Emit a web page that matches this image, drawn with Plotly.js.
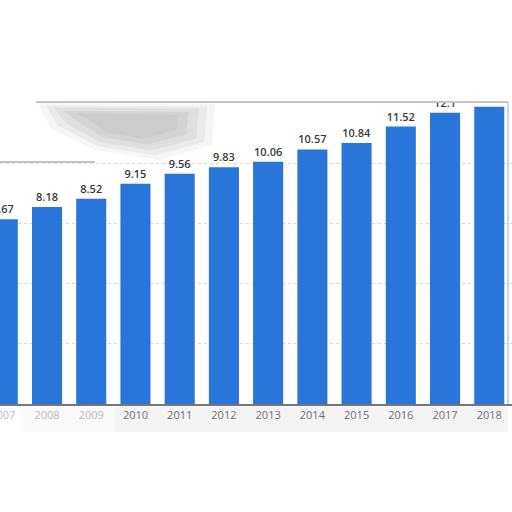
<!DOCTYPE html>
<html>
<head>
<meta charset="utf-8">
<script src="https://cdn.plot.ly/plotly-3.0.1.min.js"></script>
<style>
  html, body { margin: 0; padding: 0; background: #fff; }
  #chart { width: 512px; height: 512px; }
</style>
</head>
<body>
<div id="chart"></div>
<script>
// years and values (2018 label is hidden in the source)
var years = [2007, 2008, 2009, 2010, 2011, 2012, 2013, 2014, 2015, 2016, 2017, 2018];
var values = [7.67, 8.18, 8.52, 9.15, 9.56, 9.83, 10.06, 10.57, 10.84, 11.52, 12.1, 12.34];
var yTicks = [0, 2.5, 5, 7.5, 10, 12.5];

var barColor = '#2a75d9';

var trace = {
  x: years,
  y: values,
  type: 'bar',
  marker: { color: barColor },
  text: values.map(String),
  textposition: 'outside',
  cliponaxis: true,
  textfont: { family: 'Open Sans, sans-serif', size: 11, color: '#3a3a3a', weight: 600 },
  hoverinfo: 'none'
};

// paper-y from a pixel row (plot spans rows 103..404)
function py(row) { return (404 - row) / 301; }
function px(col) { return col / 512; }

// soft grey smudge at the upper left, built from a few stacked shapes
function smudge(inset, alpha) {
  return { type: 'path', xref: 'paper', yref: 'paper', layer: 'above',
    path: 'M ' + px(38 + inset) + ',' + py(103 + inset * 0.3) +
          ' L ' + px(215 - inset) + ',' + py(104 + inset * 0.3) +
          ' L ' + px(212 - inset) + ',' + py(145 - inset * 0.4) +
          ' L ' + px(160 - inset * 0.5) + ',' + py(160 - inset * 0.6) +
          ' L ' + px(95 + inset * 0.3) + ',' + py(150 - inset * 0.5) +
          ' L ' + px(50 + inset) + ',' + py(128 - inset * 0.3) + ' Z',
    fillcolor: 'rgba(140,140,140,' + alpha + ')', line: { width: 0 } };
}

var shapes = [
  // soft shadow under the tick labels
  { type: 'rect', xref: 'paper', yref: 'paper', layer: 'below',
    x0: px(20), x1: px(508), y0: py(432), y1: py(405),
    fillcolor: 'rgba(0,0,0,0.045)', line: { width: 0 } },
  smudge(0, 0.08), smudge(8, 0.1), smudge(16, 0.12), smudge(26, 0.12), smudge(36, 0.1),
  // frame edges
  { type: 'line', xref: 'paper', yref: 'paper', layer: 'above',
    x0: px(36), x1: px(508), y0: py(102), y1: py(102),
    line: { color: '#b0b0b0', width: 1.5 } },
  { type: 'line', xref: 'paper', yref: 'paper', layer: 'above',
    x0: px(508), x1: px(508), y0: py(102), y1: py(404),
    line: { color: '#c4c4c4', width: 1.5 } },
  { type: 'line', xref: 'paper', yref: 'paper', layer: 'above',
    x0: 0, x1: px(95), y0: py(162), y1: py(162),
    line: { color: '#b0b0b0', width: 1.5 } },
  // faded first tick labels
  { type: 'rect', xref: 'paper', yref: 'paper', layer: 'above',
    x0: 0, x1: px(115), y0: py(432), y1: py(406),
    fillcolor: 'rgba(255,255,255,0.5)', line: { width: 0 } }
];

var layout = {
  width: 512,
  height: 512,
  margin: { l: 0, r: 0, t: 103, b: 108 },
  paper_bgcolor: '#fff',
  plot_bgcolor: '#fff',
  showlegend: false,
  bargap: 0.32,
  font: { family: 'Open Sans, sans-serif', color: '#666' },
  xaxis: {
    type: 'linear',
    range: [2006.937, 2018.514],
    tickvals: years,
    ticktext: years.map(String),
    ticklabeloverflow: 'allow',
    showgrid: false,
    zeroline: false,
    showline: true,
    linecolor: '#777',
    linewidth: 2,
    ticks: '',
    tickfont: { size: 11, color: '#707070' }
  },
  yaxis: {
    range: [0, 12.5],
    tickvals: yTicks,
    showticklabels: false,
    showgrid: true,
    gridcolor: '#dadada',
    griddash: 'dot',
    gridwidth: 1,
    zeroline: false,
    showline: false
  },
  shapes: shapes
};

Plotly.newPlot('chart', [trace], layout, { displayModeBar: false, staticPlot: true });
</script>
</body>
</html>
